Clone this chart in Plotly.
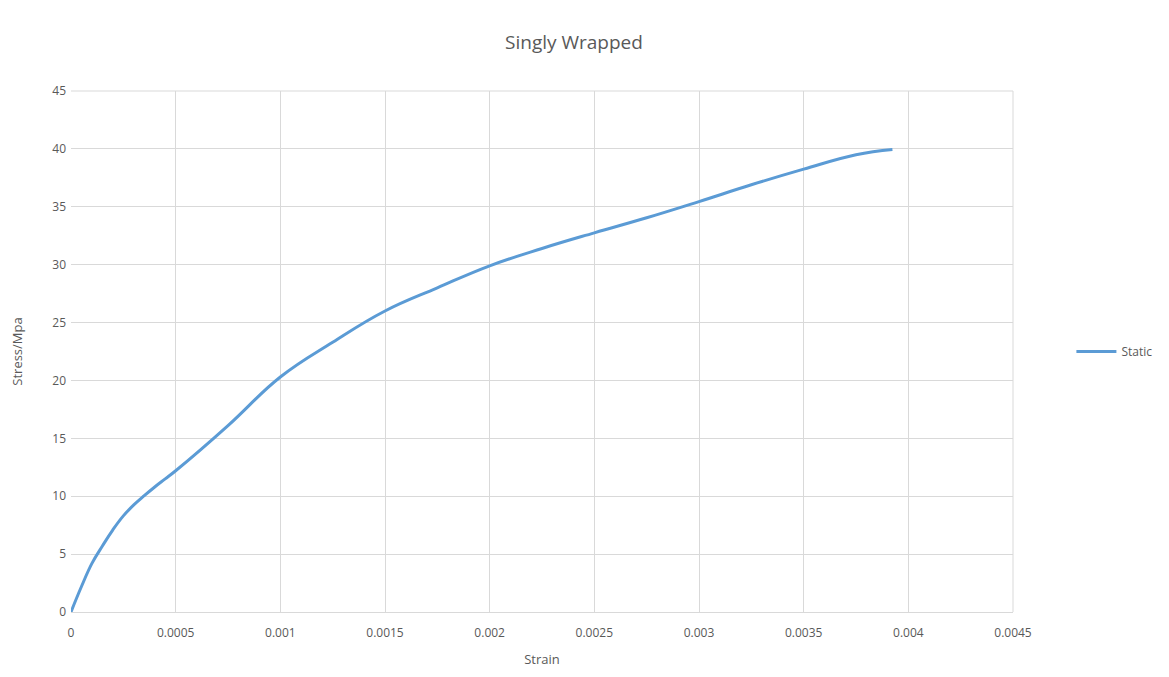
import plotly.graph_objects as go

strain = [0, 0.00005, 0.0001, 0.00015, 0.0002, 0.00025, 0.0003, 0.00035, 0.0004, 0.00045,
          0.0005, 0.00075, 0.001, 0.00125, 0.0015, 0.00175, 0.002, 0.00225, 0.0025,
          0.00275, 0.003, 0.00325, 0.0035, 0.00375, 0.003924]
stress = [0, 2.2, 4.2, 5.7, 7.1, 8.3, 9.25, 10.05, 10.8, 11.5,
          12.2, 16.1, 20.3, 23.3, 26.0, 28.0, 29.9, 31.4, 32.75,
          34.05, 35.45, 36.9, 38.25, 39.5, 39.95]

x_ticks = [0, 0.0005, 0.001, 0.0015, 0.002, 0.0025, 0.003, 0.0035, 0.004, 0.0045]
x_tick_labels = ["0", "0.0005", "0.001", "0.0015", "0.002", "0.0025", "0.003", "0.0035", "0.004", "0.0045"]
y_ticks = [0, 5, 10, 15, 20, 25, 30, 35, 40, 45]

FONT = "Open Sans, Liberation Sans, sans-serif"
TXT = "#595959"
GRID = "#d9d9d9"

fig = go.Figure()
fig.add_trace(go.Scatter(
    x=strain, y=stress, mode="lines", name="Static",
    line=dict(color="#5b9bd5", width=3, shape="spline", smoothing=1.2),
))

fig.update_layout(
    width=1169, height=677,
    margin=dict(l=71, r=156, t=91, b=65),
    paper_bgcolor="white", plot_bgcolor="white",
    font=dict(family=FONT, color=TXT, size=12),
    title=dict(text="Singly Wrapped", x=0.491, xanchor="center", y=0.938, yanchor="middle",
               font=dict(size=19, color=TXT, family=FONT)),
    showlegend=True,
    legend=dict(x=1.062, y=0.5, xanchor="left", yanchor="middle",
                font=dict(size=12, color=TXT), itemwidth=40, bgcolor="rgba(0,0,0,0)"),
    xaxis=dict(range=[0, 0.0045], tickvals=x_ticks, ticktext=x_tick_labels,
               showgrid=True, gridcolor=GRID, gridwidth=1, zeroline=False,
               showline=True, linecolor=GRID, linewidth=1, mirror=False,
               ticks="", tickfont=dict(size=12, color=TXT), ticklabelstandoff=10,
               title=dict(text="Strain", font=dict(size=13, color=TXT), standoff=14)),
    yaxis=dict(range=[0, 45], tickvals=y_ticks,
               showgrid=True, gridcolor=GRID, gridwidth=1, zeroline=False,
               showline=False, ticks="", tickfont=dict(size=12, color=TXT), ticklabelstandoff=4,
               title=dict(text="Stress/Mpa", font=dict(size=13, color=TXT), standoff=26)),
)
fig.add_shape(type="line", xref="paper", yref="paper", x0=1, x1=1, y0=0, y1=1,
              line=dict(color=GRID, width=1))
fig.add_shape(type="line", xref="paper", yref="paper", x0=0, x1=1, y0=1, y1=1,
              line=dict(color=GRID, width=1))

fig.write_html("out.html")
